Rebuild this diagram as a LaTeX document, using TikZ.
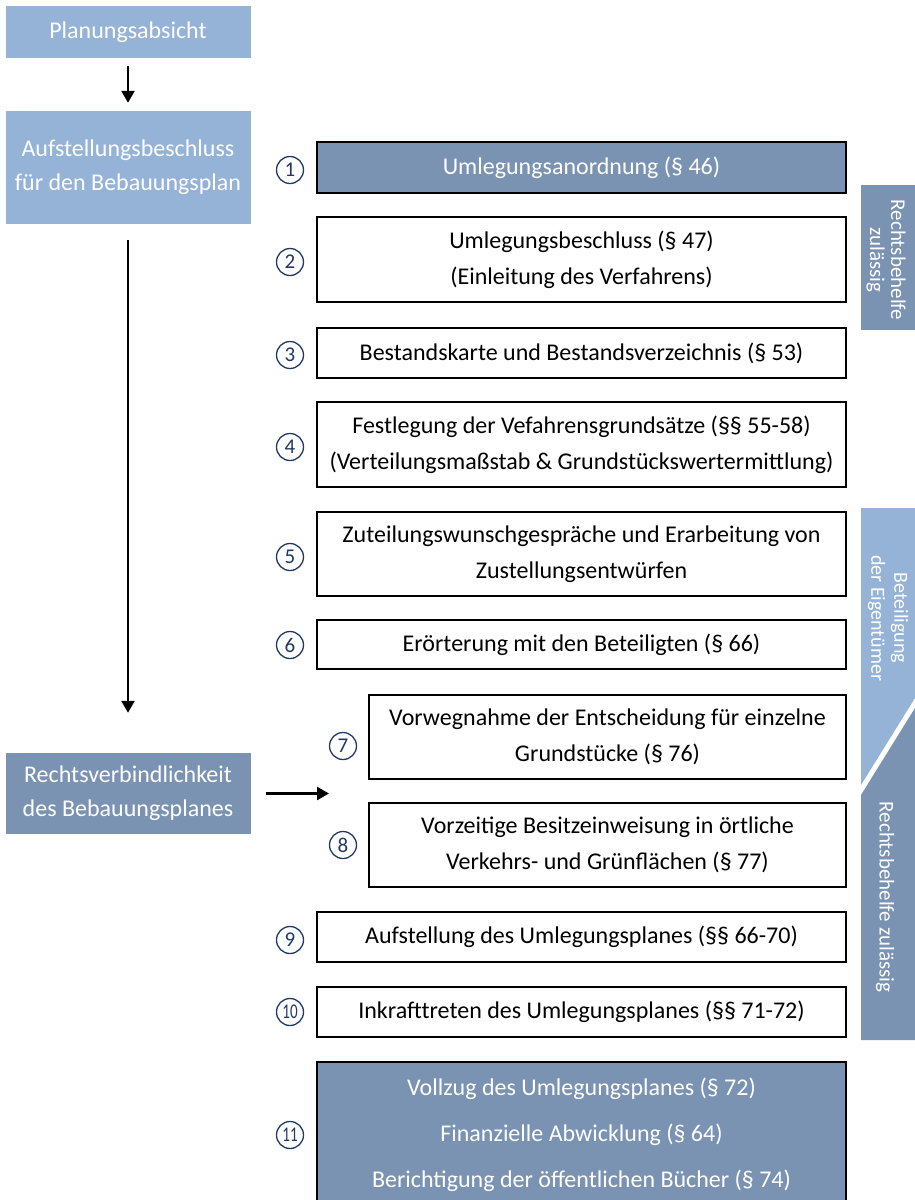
\documentclass[tikz,border=0pt]{standalone}
\usepackage{fontspec}
\setmainfont{Carlito}
\usetikzlibrary{arrows.meta}
\definecolor{lightblue}{HTML}{95B3D7}
\definecolor{darkblue}{HTML}{7A93B3}
\definecolor{numblue}{HTML}{1F3864}
\begin{document}
\begin{tikzpicture}[x=1pt,y=-1pt,
  wbox/.style={draw=black, line width=2.8pt, fill=white, align=center, inner sep=0pt, text=black,
    font=\fontsize{24}{36}\selectfont},
  dbox/.style={wbox, fill=darkblue, text=white},
  lbox/.style={fill=lightblue, align=center, text=white, inner sep=0pt, minimum width=245pt,
    font=\fontsize{24}{34}\selectfont},
  arr/.style={line width=2.5pt, -{Triangle[width=13pt,length=12pt]}},
  numc/.style={circle, draw=numblue, line width=1.3pt, minimum size=27pt, inner sep=0pt, text=numblue,
    font=\fontsize{21}{21}\selectfont},
  rtext/.style={align=center, text=white, inner sep=0pt, font=\fontsize{21}{21}\selectfont}
]
\useasboundingbox (0,0) rectangle (915,1200);
\clip (0,0) rectangle (915,1200);

% left column
\node[lbox, minimum height=52pt] (pa) at (128,32) {Planungsabsicht};
\node[lbox, minimum height=113pt] (ab) at (128,167.5) {Aufstellungsbeschluss\\für den Bebauungsplan};
\node[lbox, fill=darkblue, minimum height=81pt] (rv) at (128,793.5) {Rechtsverbindlichkeit\\des Bebauungsplanes};
\coordinate (tgt) at (329,793.5);
\draw[arr] ([yshift=-8pt]pa.south) -- ([yshift=8pt]ab.north);
\draw[arr] ([yshift=-16pt]ab.south) -- ([yshift=40pt]rv.north);
\draw[arr] ([xshift=15pt]rv.east) -- (tgt);

% main boxes
\node[dbox, minimum width=529pt, minimum height=51pt] (b1) at (581.5,167.5) {Umlegungsanordnung (§ 46)};
\node[wbox, minimum width=529pt, minimum height=85pt] (b2) at (581.5,259.5) {Umlegungsbeschluss (§ 47)\\(Einleitung des Verfahrens)};
\node[wbox, minimum width=529pt, minimum height=50pt] (b3) at (581.5,353) {Bestandskarte und Bestandsverzeichnis (§ 53)};
\node[wbox, minimum width=529pt, minimum height=85pt] (b4) at (581.5,444.5) {Festlegung der Vefahrensgrundsätze (§§ 55-58)\\(Verteilungsmaßstab \& Grundstückswertermittlung)};
\node[wbox, minimum width=529pt, minimum height=84pt] (b5) at (581.5,554) {Zuteilungswunschgespräche und Erarbeitung von\\Zustellungsentwürfen};
\node[wbox, minimum width=529pt, minimum height=49pt] (b6) at (581.5,644.5) {Erörterung mit den Beteiligten (§ 66)};
\node[wbox, minimum width=477pt, minimum height=84pt] (b7) at (607.5,737) {Vorwegnahme der Entscheidung für einzelne\\Grundstücke (§ 76)};
\node[wbox, minimum width=477pt, minimum height=84pt] (b8) at (607.5,845) {Vorzeitige Besitzeinweisung in örtliche\\Verkehrs- und Grünflächen (§ 77)};
\node[wbox, minimum width=529pt, minimum height=50pt] (b9) at (581.5,937) {Aufstellung des Umlegungsplanes (§§ 66-70)};
\node[wbox, minimum width=529pt, minimum height=50pt] (b10) at (581.5,1012) {Inkrafttreten des Umlegungsplanes (§§ 71-72)};
\node[dbox, minimum width=529pt, minimum height=146pt, font=\fontsize{24}{46}\selectfont] (b11) at (581.5,1135) {Vollzug des Umlegungsplanes (§ 72)\\Finanzielle Abwicklung (§ 64)\\Berichtigung der öffentlichen Bücher (§ 74)};

% numbers
\node[numc] (n1) at (290,170) {1};
\node[numc] (n2) at (290,262) {2};
\node[numc] (n3) at (290,355) {3};
\node[numc] (n4) at (290,447) {4};
\node[numc] (n5) at (290,557) {5};
\node[numc] (n6) at (290,645) {6};
\node[numc] (n7) at (343,746) {7};
\node[numc] (n8) at (343,845) {8};
\node[numc] (n9) at (290,940) {9};
\node[numc] (n10) at (290,1012) {\scalebox{0.72}[1]{10}};
\node[numc] (n11) at (290,1135) {\scalebox{0.72}[1]{11}};

% right bars
\fill[darkblue] (861,185) rectangle (915,330);
\node[rtext, rotate=-90] (r1) at (886,260) {Rechtsbehelfe\\zulässig};
\fill[lightblue] (861,508) -- (915,508) -- (915,698) -- (861,785) -- cycle;
\node[rtext, rotate=-90, font=\fontsize{20}{23}\selectfont] (r2) at (888,618) {Beteiligung\\der Eigentümer};
\fill[darkblue] (861,795) -- (915,708) -- (915,1040) -- (861,1040) -- cycle;
\node[rtext, rotate=-90] (r3) at (885,897) {Rechtsbehelfe zulässig};
\end{tikzpicture}
\end{document}
